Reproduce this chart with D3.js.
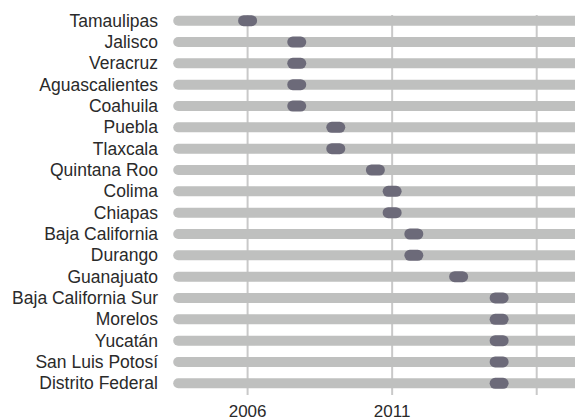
<!DOCTYPE html>
<html>
<head>
<meta charset="utf-8">
<script src="https://cdn.jsdelivr.net/npm/d3@7"></script>
<style>
  html, body { margin: 0; padding: 0; background: #fff; }
  svg { display: block; }
  text { font-family: "Liberation Sans", Arial, Helvetica, sans-serif; fill: #2a2a2a; }
</style>
</head>
<body>
<svg id="chart" width="575" height="420"></svg>
<script>
// States, ordered top to bottom
const states = [
  "Tamaulipas", "Jalisco", "Veracruz", "Aguascalientes", "Coahuila",
  "Puebla", "Tlaxcala", "Quintana Roo", "Colima", "Chiapas",
  "Baja California", "Durango", "Guanajuato", "Baja California Sur",
  "Morelos", "Yucatán", "San Luis Potosí", "Distrito Federal"
];
// Year of the event for each state (same order)
const years = [
  2006.0, 2007.7, 2007.7, 2007.7, 2007.7,
  2009.05, 2009.05, 2010.42, 2011.0, 2011.0,
  2011.75, 2011.75, 2013.3, 2014.7,
  2014.7, 2014.7, 2014.7, 2014.7
];
// Timeline span of the background tracks
const trackStart = 2003.6;
const trackEnd = 2018;
// Gridline years and the labelled ticks
const gridYears = [2006, 2011, 2016];
const tickLabels = ["2006", "2011"];

const svg = d3.select("#chart");

const x = d3.scaleLinear().domain([2006, 2016]).range([247.6, 536.7]);
const y = d3.scalePoint().domain(states).range([20.7, 383.3]);

// Vertical gridlines
svg.append("g").selectAll("line")
  .data(gridYears)
  .join("line")
  .attr("x1", d => x(d)).attr("x2", d => x(d))
  .attr("y1", 15).attr("y2", 395)
  .attr("stroke", "#c9c9c9")
  .attr("stroke-width", 2);

// Background tracks
svg.append("g").selectAll("line")
  .data(states)
  .join("line")
  .attr("x1", x(trackStart)).attr("x2", x(trackEnd))
  .attr("y1", d => y(d)).attr("y2", d => y(d))
  .attr("stroke", "#bfc0bf")
  .attr("stroke-width", 10)
  .attr("stroke-linecap", "round");

// Event markers
const pillW = 19, pillH = 11;
svg.append("g").selectAll("rect")
  .data(states.map((s, i) => ({ state: s, year: years[i] })))
  .join("rect")
  .attr("x", d => x(d.year) - pillW / 2)
  .attr("y", d => y(d.state) - pillH / 2)
  .attr("width", pillW)
  .attr("height", pillH)
  .attr("rx", pillH / 2)
  .attr("fill", "#6c6a79");

// State labels
svg.append("g").selectAll("text")
  .data(states)
  .join("text")
  .attr("x", 158)
  .attr("y", d => y(d))
  .attr("dy", "0.35em")
  .attr("text-anchor", "end")
  .attr("font-size", 17.5)
  .text(d => d);

// Year labels
svg.append("g").selectAll("text")
  .data(tickLabels)
  .join("text")
  .attr("x", d => x(+d))
  .attr("y", 417)
  .attr("text-anchor", "middle")
  .attr("font-size", 17)
  .text(d => d);
</script>
</body>
</html>
